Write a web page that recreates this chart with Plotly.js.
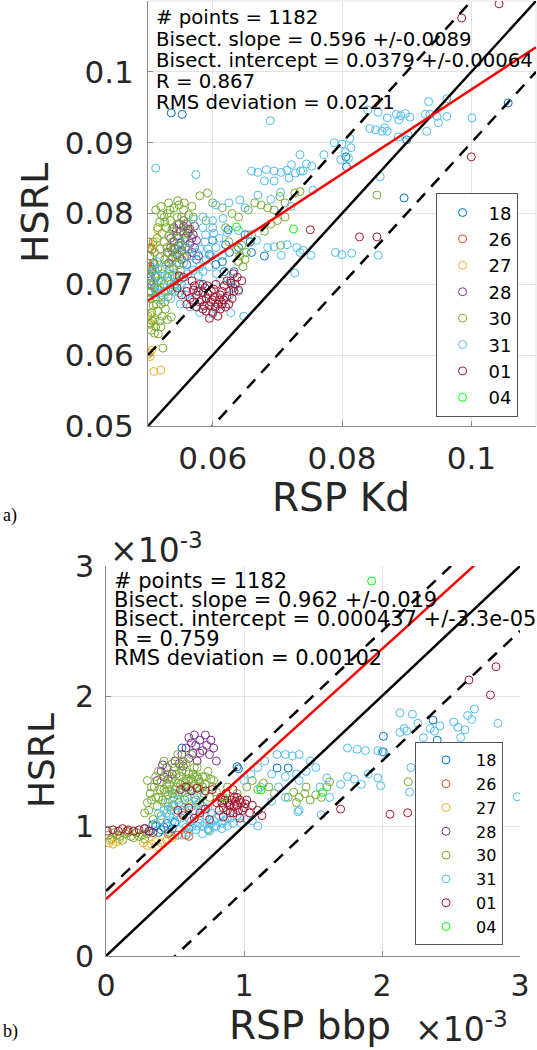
<!DOCTYPE html>
<html>
<head>
<meta charset="utf-8">
<script src="https://cdn.plot.ly/plotly-3.0.1.min.js"></script>
<style>html,body{margin:0;padding:0;background:#fff;}#chart{width:537px;height:1050px;}</style>
</head>
<body>
<div id="chart"></div>
<script>
// ---------- DATA ----------
const seriesLabels = ['18','26','27','28','30','31','01','04'];
const seriesColors = ['#0072BD','#D95319','#EDB120','#7E2F8E','#77AC30','#4DBEEE','#A2142F','#00FF00'];

// Panel a: RSP Kd (x) vs HSRL (y)
const A18 = [[0.0536,0.0942],[0.0553,0.0940],[0.0807,0.0866],[0.0806,0.0880],[0.0896,0.0822],[0.0900,0.0904],[0.1057,0.0956],
 [0.0502,0.0690],[0.0504,0.0705],[0.0506,0.0718],[0.0508,0.0730],[0.0510,0.0695],[0.0503,0.0725],[0.0512,0.0710],
 [0.0620,0.0756],[0.0626,0.0745],[0.0615,0.0732],[0.0618,0.0718],[0.0633,0.0718],[0.0628,0.0705],[0.0632,0.0695],
 [0.0600,0.0762],[0.0595,0.0742],[0.0585,0.0700],[0.0560,0.0728],[0.0575,0.0735],[0.0640,0.0752],[0.0660,0.0745],
 [0.0650,0.0770],[0.0605,0.0728],[0.0680,0.0740],[0.0624,0.0777],[0.0658,0.0760]];
const A26 = [[0.0502,0.0751],[0.0503,0.0722],[0.0503,0.0740],[0.0506,0.0749],[0.0506,0.0699],[0.0500,0.0730],[0.0504,0.0712],[0.0510,0.0728],[0.0500,0.0760]];
const A27 = [[0.0515,0.0777],[0.0513,0.0760],[0.0503,0.0643],[0.0503,0.0657],[0.0502,0.0603],[0.0506,0.0607],[0.0500,0.0601],[0.0503,0.0598],[0.0509,0.0577],[0.0520,0.0579],[0.0505,0.0650],[0.0502,0.0670],[0.0508,0.0755]];
const A28 = [[0.0530,0.0745],[0.0535,0.0752],[0.0540,0.0760],[0.0545,0.0768],[0.0550,0.0775],[0.0555,0.0782],[0.0560,0.0785],[0.0565,0.0778],[0.0570,0.0770],[0.0575,0.0762],[0.0572,0.0752],[0.0568,0.0745],[0.0560,0.0740],[0.0552,0.0735],[0.0545,0.0742],[0.0538,0.0738],[0.0532,0.0730],[0.0542,0.0750],[0.0550,0.0758],[0.0558,0.0765],[0.0565,0.0758],[0.0548,0.0785],[0.0555,0.0790],[0.0540,0.0780],[0.0578,0.0740],[0.0562,0.0772],[0.0535,0.0765],
 [0.0552,0.0748],[0.0558,0.0752],[0.0547,0.0755],[0.0562,0.0778],[0.0568,0.0765],[0.0544,0.0775],[0.0572,0.0782]];
const A30 = [[0.0502,0.0700],[0.0505,0.0690],[0.0503,0.0680],[0.0508,0.0670],[0.0506,0.0660],[0.0510,0.0650],[0.0504,0.0645],[0.0512,0.0640],[0.0518,0.0648],[0.0522,0.0655],[0.0515,0.0662],[0.0520,0.0672],[0.0512,0.0682],[0.0518,0.0692],[0.0525,0.0700],[0.0530,0.0710],[0.0522,0.0715],[0.0515,0.0722],[0.0508,0.0730],[0.0503,0.0740],[0.0510,0.0745],[0.0518,0.0738],[0.0528,0.0728],[0.0535,0.0735],[0.0540,0.0722],[0.0545,0.0730],[0.0532,0.0745],[0.0540,0.0752],[0.0548,0.0742],[0.0552,0.0755],[0.0525,0.0760],[0.0532,0.0768],[0.0540,0.0775],[0.0548,0.0765],[0.0555,0.0770],[0.0528,0.0780],[0.0535,0.0790],[0.0545,0.0785],[0.0552,0.0795],[0.0530,0.0800],[0.0540,0.0808],[0.0548,0.0812],[0.0555,0.0805],[0.0520,0.0810],[0.0512,0.0805],[0.0525,0.0795],[0.0518,0.0788],[0.0560,0.0785],[0.0565,0.0775],[0.0558,0.0762],[0.0562,0.0748],[0.0555,0.0738],[0.0550,0.0720],[0.0542,0.0710],[0.0535,0.0700],[0.0528,0.0690],[0.0520,0.0705],[0.0512,0.0712],[0.0507,0.0720],[0.0538,0.0760],[0.0545,0.0795],[0.0532,0.0815],
 [0.0501,0.0712],[0.0504,0.0688],[0.0509,0.0702],[0.0514,0.0694],[0.0516,0.0705],[0.0521,0.0685],[0.0526,0.0675],[0.0531,0.0682],[0.0536,0.0692],[0.0541,0.0698],[0.0546,0.0704],[0.0533,0.0722],[0.0526,0.0735],[0.0519,0.0750],[0.0514,0.0765],[0.0522,0.0772],[0.0529,0.0752],[0.0537,0.0748],[0.0543,0.0738],[0.0551,0.0748],[0.0558,0.0778],[0.0563,0.0798],[0.0537,0.0778],[0.0526,0.0788],[0.0534,0.0805],[0.0521,0.0798],[0.0515,0.0780],[0.0508,0.0760],[0.0546,0.0818],[0.0556,0.0815],[0.0570,0.0795],[0.0516,0.0630],[0.0527,0.0665],[0.0507,0.0648],[0.0513,0.0672],[0.0538,0.0713],[0.0503,0.0752],[0.0548,0.0728],
 [0.0510,0.0631],[0.0520,0.0640],[0.0530,0.0650],[0.0536,0.0654],[0.0523,0.0610],[0.0505,0.0635],[0.0500,0.0655],
 [0.0637,0.0749],[0.0642,0.0740],[0.0647,0.0725],[0.0650,0.0735],[0.0645,0.0755],[0.0652,0.0745],[0.0640,0.0732],
 [0.0568,0.0810],[0.0580,0.0825],[0.0592,0.0829],[0.0600,0.0815],[0.0615,0.0808],[0.0630,0.0800],[0.0640,0.0795],[0.0655,0.0805],[0.0665,0.0815],[0.0675,0.0812],[0.0685,0.0808],[0.0695,0.0805],[0.0704,0.0824],[0.0712,0.0815],[0.0727,0.0829],[0.0690,0.0785],[0.0700,0.0790],[0.0712,0.0795],[0.0680,0.0775],[0.0660,0.0770],[0.0620,0.0780],[0.0590,0.0790],[0.0625,0.0760],[0.0705,0.0755],
 [0.0854,0.0826],[0.0735,0.0831]];
const A31 = [[0.0512,0.0864],[0.0574,0.0855],[0.0689,0.0931],
 [0.0660,0.0860],[0.0670,0.0858],[0.0683,0.0862],[0.0695,0.0860],[0.0706,0.0858],[0.0715,0.0861],[0.0736,0.0860],[0.0722,0.0869],
 [0.0680,0.0846],[0.0695,0.0846],[0.0718,0.0850],[0.0753,0.0867],[0.0772,0.0883],[0.0788,0.0900],
 [0.0800,0.0898],[0.0805,0.0887],[0.0812,0.0906],[0.0814,0.0893],[0.0810,0.0878],[0.0798,0.0876],
 [0.0840,0.0946],[0.0843,0.0920],[0.0852,0.0918],[0.0862,0.0916],[0.0866,0.0921],[0.0870,0.0916],[0.0856,0.0943],[0.0870,0.0935],[0.0884,0.0940],[0.0888,0.0932],
 [0.0891,0.0938],[0.0905,0.0936],[0.0898,0.0941],[0.0887,0.0908],[0.0902,0.0911],
 [0.0929,0.0940],[0.0934,0.0958],[0.0936,0.0940],[0.0947,0.0937],[0.0962,0.0962],[0.0962,0.0937],[0.0931,0.0916],[0.0949,0.0928],[0.1001,0.0935],
 [0.0735,0.0883],[0.0745,0.0870],[0.0728,0.0857],[0.0740,0.0860],[0.0859,0.0852],[0.0755,0.0833],
 [0.0570,0.0792],[0.0585,0.0795],[0.0600,0.0790],[0.0616,0.0793],[0.0642,0.0819],[0.0605,0.0812],[0.0625,0.0815],[0.0650,0.0808],[0.0670,0.0826],[0.0690,0.0820],[0.0705,0.0830],[0.0721,0.0810],
 [0.0589,0.0770],[0.0602,0.0772],[0.0622,0.0773],[0.0640,0.0776],[0.0655,0.0770],[0.0668,0.0762],[0.0685,0.0752],[0.0695,0.0753],[0.0715,0.0756],[0.0730,0.0752],[0.0740,0.0748],
 [0.0735,0.0745],[0.0752,0.0741],[0.0790,0.0745],[0.0800,0.0742],[0.0815,0.0744],[0.0856,0.0741],[0.0706,0.0741],[0.0727,0.0716],
 [0.0626,0.0685],[0.0640,0.0690],[0.0630,0.0702],[0.0615,0.0672],[0.0605,0.0665],[0.0590,0.0680],[0.0575,0.0690],[0.0560,0.0695],[0.0548,0.0688],[0.0540,0.0700],[0.0532,0.0705],[0.0525,0.0690],[0.0518,0.0698],[0.0512,0.0688],[0.0508,0.0702],[0.0515,0.0712],[0.0522,0.0722],[0.0530,0.0715],[0.0538,0.0725],[0.0545,0.0712],[0.0552,0.0708],[0.0562,0.0715],[0.0570,0.0720],[0.0580,0.0725],[0.0590,0.0735],[0.0598,0.0740],[0.0555,0.0730],[0.0545,0.0745],[0.0560,0.0752],[0.0575,0.0745],[0.0588,0.0760],[0.0605,0.0752],[0.0615,0.0740],[0.0520,0.0678],[0.0535,0.0680],[0.0550,0.0672],[0.0565,0.0668],[0.0580,0.0660],[0.0600,0.0658],[0.0628,0.0660],[0.0648,0.0655],
 [0.0510,0.0720],[0.0514,0.0732],[0.0526,0.0712],[0.0534,0.0695],[0.0542,0.0690],[0.0552,0.0700],[0.0558,0.0685],[0.0568,0.0678],[0.0578,0.0712],[0.0585,0.0718],[0.0595,0.0725],[0.0606,0.0715],[0.0612,0.0705],[0.0568,0.0740],[0.0580,0.0750],[0.0593,0.0750],[0.0610,0.0765],[0.0585,0.0780],[0.0600,0.0780],[0.0550,0.0760]];
const A01 = [[0.0545,0.0695],[0.0552,0.0685],[0.0560,0.0690],[0.0565,0.0680],[0.0570,0.0692],[0.0575,0.0685],[0.0580,0.0675],[0.0585,0.0688],[0.0590,0.0680],[0.0595,0.0670],[0.0598,0.0690],[0.0603,0.0682],[0.0608,0.0672],[0.0612,0.0685],[0.0617,0.0678],[0.0620,0.0668],[0.0625,0.0690],[0.0630,0.0680],[0.0635,0.0700],[0.0640,0.0692],[0.0638,0.0710],[0.0628,0.0702],[0.0618,0.0698],[0.0605,0.0700],[0.0592,0.0698],[0.0580,0.0700],[0.0568,0.0705],[0.0555,0.0710],[0.0548,0.0712],[0.0560,0.0672],[0.0575,0.0668],[0.0590,0.0662],[0.0600,0.0660],[0.0612,0.0665],[0.0625,0.0672],[0.0608,0.0655],[0.0595,0.0652],[0.0585,0.0665],[0.0615,0.0690],[0.0622,0.0705],[0.0645,0.0705],[0.0632,0.0715],[0.0600,0.0678],[0.0588,0.0695],[0.0572,0.0698],
 [0.0578,0.0690],[0.0583,0.0678],[0.0593,0.0686],[0.0602,0.0693],[0.0610,0.0678],[0.0604,0.0668],[0.0614,0.0672],[0.0622,0.0683],[0.0597,0.0675],[0.0587,0.0670],[0.0633,0.0690],[0.0570,0.0675],
 [0.0985,0.1076],[0.1043,0.1096],[0.1000,0.0880],[0.0751,0.0777],[0.0827,0.0767],[0.0854,0.0767]];
const A04 = [[0.0637,0.0781],[0.0725,0.0778]];

// Panel b: RSP bbp (x, units of 1e-3) vs HSRL (y, units of 1e-3)
const B18 = [[0.32,0.96],[0.36,1.00],[0.40,0.97],[0.44,1.02],[0.48,0.98],[0.50,1.03],[0.38,0.95],[0.46,0.95],[0.42,0.99],[0.34,1.01],[0.55,1.60],[0.95,1.456],[0.96,1.44],[1.24,1.446],[1.32,1.446],[2.01,1.69],[2.01,1.57],[2.37,1.815],[2.40,1.66],[0.28,0.98],[0.60,0.98]];
const B26 = [[0.58,0.93],[0.60,0.92],[0.22,0.95],[0.15,0.96],[0.45,0.94],[0.52,0.93]];
const B27 = [[0.02,0.87],[0.05,0.86],[0.08,0.88],[0.03,0.89],[0.27,0.87],[0.30,0.85],[0.33,0.86],[0.36,0.88],[0.40,0.87],[0.44,0.89],[0.48,0.91],[0.38,0.84],[0.10,0.90]];
const B28 = [[0.37,1.35],[0.40,1.42],[0.42,1.38],[0.44,1.45],[0.45,1.36],[0.48,1.40],[0.50,1.50],[0.55,1.55],[0.56,1.46],[0.58,1.60],[0.60,1.52],[0.62,1.64],[0.63,1.56],[0.65,1.62],[0.66,1.50],[0.68,1.66],[0.70,1.58],[0.72,1.70],[0.73,1.62],[0.75,1.55],[0.76,1.66],[0.78,1.60],[0.80,1.50],[0.60,1.68],[0.68,1.56],[0.53,1.48],[0.41,1.47],[0.64,1.70]];
const B30 = [[0.02,0.93],[0.06,0.95],[0.10,0.92],[0.14,0.94],[0.18,0.92],[0.22,0.95],[0.26,0.93],[0.30,0.94],[0.04,0.90],[0.12,0.89],[0.20,0.91],[0.28,0.90],
 [0.28,1.10],[0.30,1.18],[0.32,1.25],[0.34,1.05],[0.35,1.30],[0.37,1.15],[0.38,1.22],[0.40,1.34],[0.40,1.08],[0.42,1.28],[0.43,1.18],[0.44,1.40],[0.45,1.24],[0.46,1.32],[0.47,1.12],[0.48,1.36],[0.49,1.22],[0.50,1.28],[0.50,1.45],[0.52,1.33],[0.53,1.18],[0.54,1.38],[0.55,1.26],[0.56,1.50],[0.57,1.30],[0.58,1.42],[0.59,1.22],[0.60,1.35],[0.61,1.28],[0.62,1.55],[0.63,1.40],[0.64,1.32],[0.65,1.20],[0.66,1.45],[0.67,1.36],[0.68,1.28],[0.70,1.38],[0.71,1.25],[0.72,1.32],[0.74,1.42],[0.75,1.22],[0.77,1.30],[0.78,1.35],[0.80,1.26],[0.42,1.50],[0.52,1.55],[0.58,1.48],[0.36,1.38],[0.33,1.30],[0.45,1.15],[0.55,1.10],[0.62,1.15],[0.68,1.18],[0.30,1.35],[0.38,1.42],
 [0.41,1.20],[0.43,1.26],[0.46,1.28],[0.48,1.25],[0.51,1.30],[0.52,1.24],[0.54,1.32],[0.56,1.34],[0.58,1.36],[0.60,1.30],[0.62,1.36],[0.64,1.38],[0.66,1.30],[0.68,1.34],[0.70,1.30],[0.44,1.32],[0.47,1.38],[0.51,1.40],[0.55,1.42],[0.60,1.40],[0.64,1.45],[0.57,1.20],[0.49,1.16],[0.39,1.28],[0.36,1.22],[0.31,1.12],[0.33,1.20],[0.66,1.38],[0.72,1.38],[0.76,1.36],[0.08,0.93],[0.16,0.95],[0.24,0.92],[0.54,1.46],[0.48,1.48],
 [1.02,1.30],[1.06,1.35],[1.10,1.28],[1.14,1.33],[1.18,1.30],[1.22,1.25],[1.32,1.22],[1.36,1.26],[1.40,1.22],[1.44,1.25],[1.48,1.20],[1.52,1.24],[1.56,1.22],[1.60,1.30],[1.62,1.34],[1.45,1.30],[1.38,1.18],[2.19,1.34],[0.95,1.25],[0.88,1.30],[0.74,0.97]];
const B31 = [[0.40,1.05],[0.42,1.12],[0.44,1.00],[0.46,1.08],[0.48,1.15],[0.50,1.02],[0.52,1.20],[0.54,1.06],[0.56,1.12],[0.58,0.99],[0.60,1.18],[0.62,1.04],[0.64,1.22],[0.66,1.00],[0.68,1.08],[0.70,1.15],[0.72,1.02],[0.74,0.98],[0.76,1.10],[0.78,1.04],[0.80,1.00],[0.82,1.08],[0.84,0.98],[0.86,1.04],[0.88,1.00],[0.90,1.06],[0.92,1.02],[0.95,1.08],[0.98,1.02],[1.02,1.05],[1.06,1.04],[1.10,1.00],[0.60,0.95],[0.70,0.94],[0.55,0.93],[0.65,0.97],[0.75,0.96],[0.45,1.18],[0.50,1.25],[0.58,1.26],[0.66,1.24],[0.36,1.02],[0.38,1.10],
 [0.44,1.10],[0.48,1.04],[0.52,1.10],[0.56,1.02],[0.60,1.06],[0.64,1.12],[0.68,1.02],[0.72,1.08],[0.76,1.02],[0.80,1.06],[0.84,1.02],[0.88,1.06],[0.62,0.99],[0.70,1.00],[0.78,0.99],[0.54,1.16],[0.66,1.16],[0.74,1.14],
 [1.00,1.35],[1.05,1.40],[1.10,1.45],[1.15,1.50],[1.24,1.55],[1.30,1.55],[1.35,1.54],[1.40,1.55],[1.48,1.50],[1.52,1.45],[1.45,1.42],[1.38,1.40],[1.30,1.38],[1.20,1.40],[1.12,1.30],[1.25,1.30],[1.40,1.35],[1.55,1.30],[1.60,1.37],[1.75,1.38],[1.80,1.36],[1.90,1.40],[1.97,1.37],[1.99,1.31],[1.85,1.32],[1.70,1.32],[1.62,1.22],[1.56,1.085],[1.40,1.12],[1.39,1.11],[1.20,1.19],[1.30,1.22],
 [1.75,1.60],[1.82,1.59],[1.88,1.58],[1.97,1.58],[2.00,1.57],[2.13,1.87],[2.22,1.86],[2.26,1.79],[2.13,1.72],[2.16,1.75],[2.18,1.73],[2.30,1.68],[2.35,1.75],[2.38,1.73],[2.42,1.77],[2.52,1.80],[2.55,1.76],[2.60,1.74],[2.62,1.85],[2.65,1.82],[2.67,1.90],[2.57,1.68],[2.84,1.79],[2.21,1.45],[2.20,1.26],[2.98,1.225],[2.45,1.55]];
const B01 = [[0.01,0.96],[0.05,0.97],[0.09,0.96],[0.12,0.98],[0.16,0.97],[0.20,0.96],[0.24,0.97],[0.28,0.98],[0.31,0.96],[0.34,0.95],
 [0.54,1.28],[0.58,1.30],[0.62,1.27],[0.66,1.29],[0.72,1.27],[0.77,1.28],[0.52,1.12],[0.56,1.08],[0.60,1.14],[0.64,1.06],[0.68,1.10],[0.72,1.13],[0.75,1.05],[0.80,1.18],[0.83,1.22],[0.85,1.14],[0.87,1.25],[0.88,1.18],[0.90,1.10],[0.91,1.20],[0.93,1.15],[0.95,1.22],[0.96,1.12],[0.98,1.18],[1.00,1.14],[1.02,1.20],[1.04,1.10],[1.06,1.16],[1.10,1.12],[1.13,1.08],[0.92,1.28],[0.85,1.07],[0.97,1.06],[0.82,1.12],[0.89,1.16],[0.94,1.19],
 [0.86,1.20],[0.90,1.16],[0.93,1.22],[0.95,1.16],[0.99,1.12],[1.01,1.17],[0.88,1.12],[0.84,1.18],[0.92,1.10],[0.97,1.20],
 [2.826,2.225],[2.63,2.123],[2.786,2.008],[1.70,1.13],[2.058,1.09],[2.186,1.102]];
const B04 = [[1.925,2.885],[1.123,1.277],[1.570,1.259],[0.85,1.22]];

// Axis limits and tick labels
const rangeA = [0.05, 0.11];
const xTicksA = [0.06, 0.08, 0.1];
const xTickTextA = ['0.06', '0.08', '0.1'];
const yTicksA = [0.05, 0.06, 0.07, 0.08, 0.09, 0.1];
const yTickTextA = ['0.05', '0.06', '0.07', '0.08', '0.09', '0.1'];
const rangeB = [0, 3];
const ticksB = [0, 1, 2, 3];
const tickTextB = ['0', '1', '2', '3'];

// Regression results (bisector fit) and +/- band around 1:1
const fitA = {slope: 0.596, intercept: 0.0379};
const bandA = 0.01;
const fitB = {slope: 0.962, intercept: 0.437};
const bandB = 0.5;

const statsA = ['# points = 1182', 'Bisect. slope = 0.596 +/-0.0089', 'Bisect. intercept = 0.0379 +/-0.00064', 'R = 0.867', 'RMS deviation = 0.0221'];
const statsB = ['# points = 1182', 'Bisect. slope = 0.962 +/-0.019', 'Bisect. intercept = 0.000437 +/-3.3e-05', 'R = 0.759', 'RMS deviation = 0.00102'];

// ---------- BUILD ----------
const FONT = 'DejaVu Sans';
const W = 537, H = 1050;
const px = v => v / W;
const py = v => 1 - v / H;

const dataA = [A18, A26, A27, A28, A30, A31, A01, A04];
const dataB = [B18, B26, B27, B28, B30, B31, B01, B04];

const traces = [];
function scatterTraces(sets, xa, ya, legendName) {
  sets.forEach((pts, i) => {
    traces.push({
      type: 'scatter', mode: 'markers', name: seriesLabels[i],
      x: pts.map(p => p[0]), y: pts.map(p => p[1]),
      xaxis: xa, yaxis: ya, legend: legendName,
      marker: {symbol: 'circle-open', size: 8, color: seriesColors[i], line: {width: 1, color: seriesColors[i]}},
      hoverinfo: 'skip'
    });
  });
}
function refLines(range, fit, band, xa, ya) {
  const xs = range.slice();
  const mk = (ys, color, dash) => ({
    type: 'scatter', mode: 'lines', x: xs, y: ys, xaxis: xa, yaxis: ya, showlegend: false,
    line: {color: color, width: 2.5, dash: dash}, hoverinfo: 'skip'
  });
  traces.push(mk(xs.map(v => v + band), '#000000', '12px,9px'));
  traces.push(mk(xs.map(v => v - band), '#000000', '12px,9px'));
  traces.push(mk(xs.map(v => v), '#000000', 'solid'));
  traces.push(mk(xs.map(v => fit.slope * v + fit.intercept), '#ff0000', 'solid'));
}
scatterTraces(dataA, 'x', 'y', 'legend');
refLines(rangeA, fitA, bandA, 'x', 'y');
scatterTraces(dataB, 'x2', 'y2', 'legend2');
refLines(rangeB, fitB, bandB, 'x2', 'y2');

const gridC = '#e3e3e3', axisC = '#8c8c8c', textC = '#262626';
function axis(extra) {
  return Object.assign({
    showgrid: true, gridcolor: gridC, gridwidth: 1, zeroline: false,
    showline: true, linecolor: axisC, linewidth: 1,
    ticks: 'inside', ticklen: 5, tickcolor: axisC, tickmode: 'array',
    fixedrange: true
  }, extra);
}

const annotations = [];
function ann(text, x, y, size, opts) {
  annotations.push(Object.assign({
    text: text, xref: 'paper', yref: 'paper', x: px(x), y: py(y),
    xanchor: 'left', yanchor: 'middle', showarrow: false,
    font: {family: FONT, size: size, color: '#000'}
  }, opts || {}));
}
statsA.forEach((t, i) => ann(t, 154, 18 + i * 21.2, 19.7));
statsB.forEach((t, i) => ann(t, 112, 581 + i * 19.2, 21));
ann('RSP Kd', 341, 497, 39, {xanchor: 'center', font: {family: FONT, size: 39, color: textC}});
ann('HSRL', 35, 213, 38, {xanchor: 'center', textangle: -90, font: {family: FONT, size: 38, color: textC}});
ann('RSP bbp', 310, 1025, 39, {xanchor: 'center', font: {family: FONT, size: 39, color: textC}});
ann('HSRL', 41, 761, 36, {xanchor: 'center', textangle: -90, font: {family: FONT, size: 36, color: textC}});
ann('×10<sup>-3</sup>', 108, 548, 33, {font: {family: FONT, size: 33, color: textC}});
ann('×10<sup>-3</sup>', 413, 1027, 33, {font: {family: FONT, size: 33, color: textC}});
ann('a)', 1, 515, 18, {font: {family: 'Liberation Serif', size: 18, color: '#000'}});
ann('b)', 1, 1031, 18, {font: {family: 'Liberation Serif', size: 18, color: '#000'}});

const edge = (xr, yr, x0, y0, x1, y1) => ({type: 'line', xref: xr, yref: yr, x0: x0, y0: y0, x1: x1, y1: y1, line: {color: gridC, width: 1}, layer: 'below'});

const layout = {
  width: W, height: H, margin: {l: 0, r: 0, t: 0, b: 0},
  paper_bgcolor: '#ffffff', plot_bgcolor: '#ffffff',
  font: {family: FONT, color: textC},
  showlegend: true,
  xaxis: axis({domain: [px(148), px(536)], range: rangeA, anchor: 'y', tickvals: xTicksA, ticktext: xTickTextA,
    tickfont: {family: FONT, size: 31, color: textC}, ticklabelstandoff: 5}),
  yaxis: axis({domain: [py(426), py(1)], range: rangeA, anchor: 'x', tickvals: yTicksA, ticktext: yTickTextA,
    tickfont: {family: FONT, size: 31, color: textC}, ticklabelstandoff: 7}),
  xaxis2: axis({domain: [px(106), px(520)], range: rangeB, anchor: 'y2', tickvals: ticksB, ticktext: tickTextB,
    tickfont: {family: FONT, size: 30, color: textC}, ticklabelstandoff: 3}),
  yaxis2: axis({domain: [py(956), py(566)], range: rangeB, anchor: 'x2', tickvals: ticksB, ticktext: tickTextB,
    tickfont: {family: FONT, size: 30, color: textC}, ticklabelstandoff: 5}),
  legend: {x: px(435.6), y: py(193.3), xanchor: 'left', yanchor: 'top', bgcolor: '#ffffff',
    bordercolor: '#555555', borderwidth: 1, font: {family: FONT, size: 18, color: '#000'}, tracegroupgap: 0, itemwidth: 42},
  legend2: {x: px(415), y: py(742), xanchor: 'left', yanchor: 'top', bgcolor: '#ffffff',
    bordercolor: '#555555', borderwidth: 1, font: {family: FONT, size: 16, color: '#000'}, tracegroupgap: 0, itemwidth: 50},
  annotations: annotations,
  shapes: [
    edge('x domain', 'y domain', 0, 1, 1, 1),
    edge('x domain', 'y domain', 1, 0, 1, 1)
  ]
};

Plotly.newPlot('chart', traces, layout, {staticPlot: true, displayModeBar: false});
</script>
</body>
</html>
